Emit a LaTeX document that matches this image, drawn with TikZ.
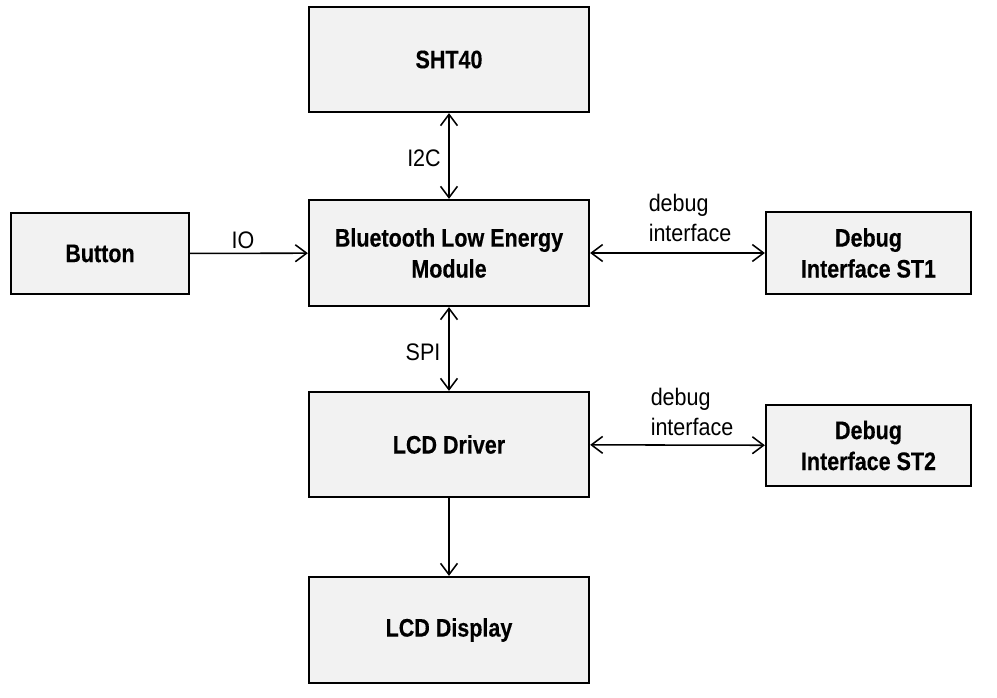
\documentclass[tikz,border=0pt]{standalone}
\usepackage{fontspec}
\setmainfont{Liberation Sans}
\newfontfamily\narrowb{Liberation Sans}[FakeStretch=0.85,FakeBold=0.3]
\newfontfamily\narrowr{Liberation Sans}[FakeStretch=0.9]
\usetikzlibrary{arrows.meta}
\begin{document}
\begin{tikzpicture}[x=0.025cm,y=-0.025cm,
  box/.style={draw,line width=1.6pt,fill=black!5,align=center,font=\narrowb\fontsize{18}{22}\selectfont\bfseries},
  lbl/.style={font=\narrowr\fontsize{17}{21}\selectfont,align=left},
  conn/.style={line width=1.1pt,{Straight Barb[length=8pt,width=12pt]}-{Straight Barb[length=8pt,width=12pt]}},
  one/.style={line width=1.1pt,-{Straight Barb[length=8pt,width=12pt]}}]
\useasboundingbox (0,0) rectangle (997,697);
\node[box,minimum width=280*0.025cm,minimum height=105*0.025cm] (sht) at (449,59.5) {SHT40};
\node[box,minimum width=280*0.025cm,minimum height=106*0.025cm] (ble) at (449,253) {Bluetooth Low Energy\\Module};
\node[box,minimum width=178*0.025cm,minimum height=81*0.025cm] (btn) at (100,253.5) {Button};
\node[box,minimum width=205*0.025cm,minimum height=82*0.025cm] (st1) at (868.5,253) {Debug\\Interface ST1};
\node[box,minimum width=280*0.025cm,minimum height=105*0.025cm] (lcd) at (449,444.5) {LCD Driver};
\node[box,minimum width=205*0.025cm,minimum height=81*0.025cm] (st2) at (868.5,445.5) {Debug\\Interface ST2};
\node[box,minimum width=280*0.025cm,minimum height=106*0.025cm] (disp) at (449,630) {LCD Display};
\draw[conn] (sht) -- (ble);
\draw[one] (btn) -- (ble);
\draw[conn] (ble) -- (st1);
\draw[conn] (ble) -- (lcd);
\draw[conn] (lcd) -- (st2);
\draw[one] (lcd) -- (disp);
\node[lbl] (l1) at (424,158) {I2C};
\node[lbl] (l2) at (243,240) {IO};
\node[lbl] (l3) at (690,218) {debug\\interface};
\node[lbl] (l4) at (423,352) {SPI};
\node[lbl] (l5) at (692,412) {debug\\interface};
\end{tikzpicture}
\end{document}
